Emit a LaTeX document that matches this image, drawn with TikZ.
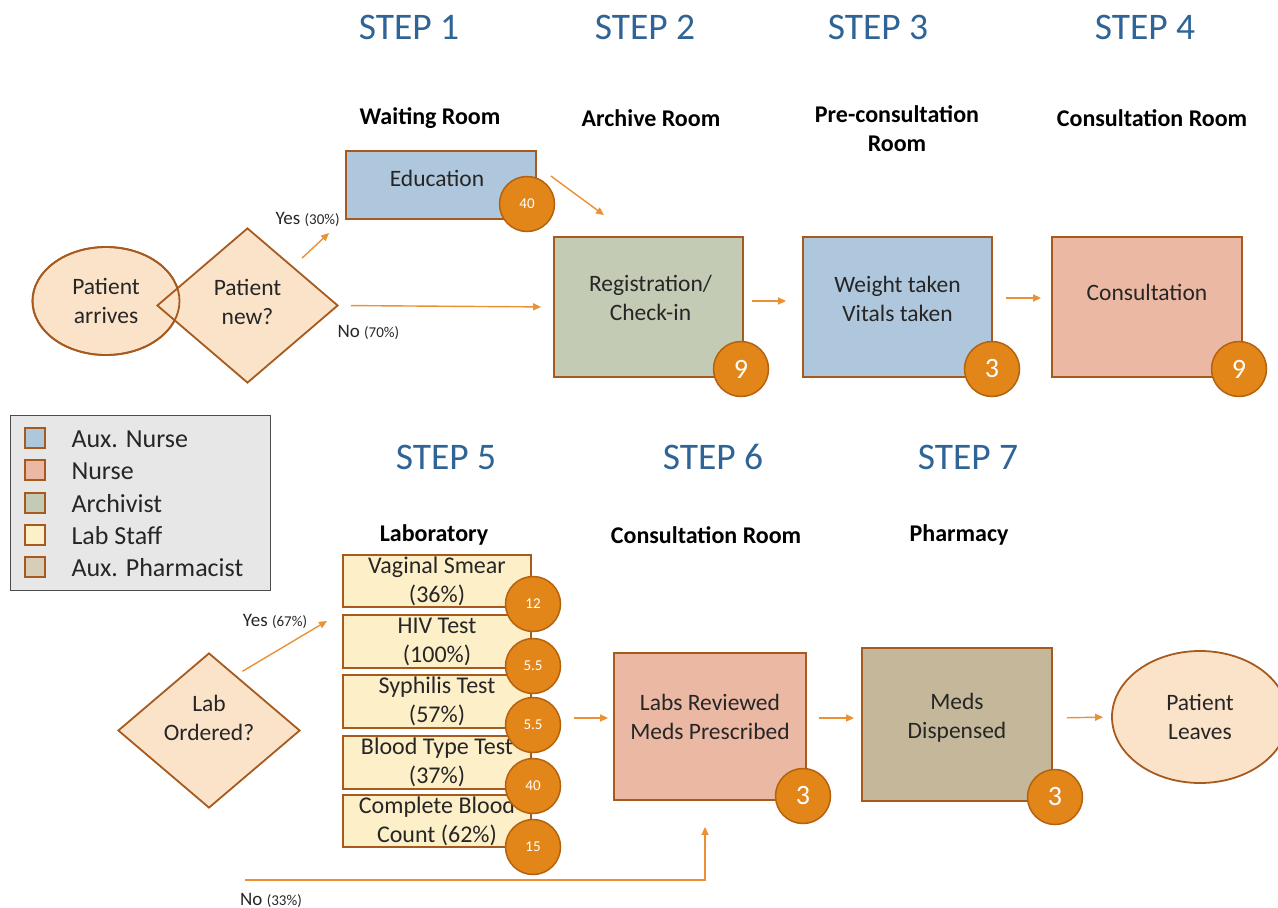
\documentclass[tikz,border=0pt]{standalone}
\usepackage{fontspec}
\setmainfont{Carlito}
\usetikzlibrary{shapes.geometric,arrows.meta}
\definecolor{brd}{HTML}{A65A1E}
\definecolor{auxn}{HTML}{AFC7DC}
\definecolor{nurse}{HTML}{EBB9A3}
\definecolor{arch}{HTML}{C3CBB5}
\definecolor{labc}{HTML}{FDEFC8}
\definecolor{pharm}{HTML}{C4B79A}
\definecolor{pharmL}{HTML}{D8CDB8}
\definecolor{peach}{HTML}{FBE3C9}
\definecolor{orng}{HTML}{E2861A}
\definecolor{orngd}{HTML}{B5620F}
\definecolor{arrc}{HTML}{EB9135}
\definecolor{stepc}{HTML}{2F6497}
\definecolor{legbg}{HTML}{E7E7E7}
\definecolor{txt}{HTML}{262626}
\begin{document}
\begin{tikzpicture}[x=1pt,y=-1pt,
  box/.style={draw=brd,line width=1.8pt,rectangle,inner sep=0pt},
  lbl/.style={font=\fontsize{23.5}{29}\selectfont,align=center,text=txt},
  lablbl/.style={font=\fontsize{24}{29}\selectfont,align=center,text=txt},
  badge/.style={circle,draw=orngd,line width=1.5pt,fill=orng,minimum size=55pt,inner sep=0pt,text=white},
  bigbadge/.style={badge,font=\fontsize{28}{30}\selectfont},
  smbadge/.style={badge,font=\fontsize{15}{17}\selectfont},
  arr/.style={draw=arrc,line width=1.4pt,-{Triangle[length=8pt,width=7pt]}},
  stephead/.style={text=stepc,font=\fontsize{37.5}{40}\selectfont},
  room/.style={font=\bfseries\fontsize{24}{29}\selectfont,align=center,text=black},
  term/.style={ellipse,draw=brd,line width=1.8pt,fill=peach,inner sep=0pt},
  decide/.style={diamond,draw=brd,line width=1.8pt,fill=peach,inner sep=0pt},
  choice/.style={font=\fontsize{19}{22}\selectfont,text=txt},
  legsq/.style={rectangle,draw=brd,line width=1.5pt,minimum size=20pt,inner sep=0pt},
  legtxt/.style={anchor=west,font=\fontsize{26}{30}\selectfont,text=txt}
]
\useasboundingbox (0,0) rectangle (1278,908);

% step headings
\node[stephead] (s1) at (409,27) {STEP 1};
\node[stephead] (s2) at (645,27) {STEP 2};
\node[stephead] (s3) at (878,27) {STEP 3};
\node[stephead] (s4) at (1145,27) {STEP 4};
\node[stephead] (s5) at (446,457) {STEP 5};
\node[stephead] (s6) at (713,457) {STEP 6};
\node[stephead] (s7) at (968,457) {STEP 7};

% rooms
\node[room] (r1) at (430,118) {Waiting Room};
\node[room] (r2) at (651,118) {Archive Room};
\node[room] (r3) at (897,129) {Pre-consultation\\Room};
\node[room] (r4) at (1152,118) {Consultation Room};
\node[room] (r5) at (434,535) {Laboratory};
\node[room] (r6) at (706,535) {Consultation Room};
\node[room] (r7) at (959,535) {Pharmacy};

% top row
\node[term,minimum width=147pt,minimum height=108pt] (pa) at (106,301) {};
\node[decide,minimum width=181pt,minimum height=155pt] (pn) at (247.5,305.5) {};
\draw[brd,line width=1.8pt] (106,301) ellipse [x radius=73.5, y radius=54];
\node[lbl] at (pa.center) {Patient\\arrives};
\node[lbl,yshift=4pt] at (pn.center) {Patient\\new?};

\node[box,fill=auxn,minimum width=190pt,minimum height=68pt,
  label={[lbl,yshift=7pt,xshift=-4pt]center:Education}] (edu) at (441,185) {};
\node[box,fill=arch,minimum width=189pt,minimum height=140pt,
  label={[lbl,yshift=9pt,xshift=2pt]center:Registration/\\Check-in}] (reg) at (648.5,307) {};
\node[box,fill=auxn,minimum width=189pt,minimum height=140pt,
  label={[lbl,yshift=8pt]center:Weight taken\\Vitals taken}] (wt) at (897.5,307) {};
\node[box,fill=nurse,minimum width=190pt,minimum height=140pt,
  label={[lbl,yshift=15pt]center:Consultation}] (cons) at (1147,307) {};

\node[smbadge] (b1) at (527,204) {40};
\node[bigbadge] (b2) at (741,369) {9};
\node[bigbadge] (b3) at (992,369) {3};
\node[bigbadge] (b4) at (1239,369) {9};

\coordinate (yesT) at (329,233);
\draw[arr,shorten <=12pt] (pn.north east) -- (yesT);
\node[choice,anchor=west] (y30) at (272,219) {Yes {\fontsize{15}{17}\selectfont (30\%)}};
\draw[arr,shorten <=12pt,shorten >=12pt] (pn.east) -- (reg.west);
\node[choice,anchor=west] (n70) at (334,332) {No {\fontsize{15}{17}\selectfont (70\%)}};
\draw[arr] ([xshift=14pt,yshift=9pt]edu.east) -- ([xshift=-44.5pt,yshift=21pt]reg.north);
\draw[arr,shorten <=8pt,shorten >=16pt] ([yshift=6pt]reg.east) -- ([yshift=6pt]wt.west);
\draw[arr,shorten <=13pt,shorten >=10pt] ([yshift=9pt]wt.east) -- ([yshift=9pt]cons.west);

% legend
\node[rectangle,draw=black!70,line width=1pt,fill=legbg,minimum width=260pt,minimum height=175pt] (leg) at (140,502.5) {};
\node[legsq,fill=auxn] (q1) at (35,438) {};
\node[legsq,fill=nurse] (q2) at (35,470) {};
\node[legsq,fill=arch] (q3) at (35,503) {};
\node[legsq,fill=labc] (q4) at (35,535) {};
\node[legsq,fill=pharmL] (q5) at (35,567) {};
\node[legtxt] (t1) at (68,439) {Aux. Nurse};
\node[legtxt] (t2) at (68,471) {Nurse};
\node[legtxt] (t3) at (68,504) {Archivist};
\node[legtxt] (t4) at (68,536) {Lab Staff};
\node[legtxt] (t5) at (68,568) {Aux. Pharmacist};

% bottom row
\node[decide,minimum width=182pt,minimum height=155pt] (lo) at (209,730.5) {};
\node[lbl,yshift=13pt] at (lo.center) {Lab\\Ordered?};

\node[box,fill=labc,minimum width=188pt,minimum height=52pt,
  label={[lablbl]center:Vaginal Smear\\(36\%)}] (lab1) at (437,581) {};
\node[box,fill=labc,minimum width=188pt,minimum height=53pt,
  label={[lablbl]center:HIV Test\\(100\%)}] (lab2) at (437,641.5) {};
\node[box,fill=labc,minimum width=188pt,minimum height=53pt,
  label={[lablbl]center:Syphilis Test\\(57\%)}] (lab3) at (437,701.5) {};
\node[box,fill=labc,minimum width=188pt,minimum height=53pt,
  label={[lablbl]center:Blood Type Test\\(37\%)}] (lab4) at (437,762.5) {};
\node[box,fill=labc,minimum width=188pt,minimum height=52pt,
  label={[lablbl]center:Complete Blood\\Count (62\%)}] (lab5) at (437,821) {};
\node[smbadge] (lb1) at (533,604) {12};
\node[smbadge] (lb2) at (533,666) {5.5};
\node[smbadge] (lb3) at (533,725) {5.5};
\node[smbadge] (lb4) at (533,786) {40};
\node[smbadge] (lb5) at (533,847) {15};

\node[box,fill=nurse,minimum width=192pt,minimum height=147pt,
  label={[lbl,yshift=10pt]center:Labs Reviewed\\Meds Prescribed}] (lr) at (710,726.5) {};
\node[box,fill=pharm,minimum width=190pt,minimum height=153pt,
  label={[lbl,yshift=7pt]center:Meds\\Dispensed}] (md) at (957,724.5) {};
\node[term,minimum width=176pt,minimum height=132pt] (pl) at (1200,717) {};
\node[lbl] at (pl.center) {Patient\\Leaves};
\node[bigbadge] (lrb) at (803,796) {3};
\node[bigbadge] (mdb) at (1055,797) {3};

\coordinate (labyes) at (327,621);
\draw[arr] ([shift={(-12.5pt,20pt)}]lo.north east) -- (labyes);
\node[choice] (y67) at (275,621) {Yes {\fontsize{15}{17}\selectfont (67\%)}};
\draw[arr,shorten <=42pt,shorten >=5pt] ([yshift=-16.5pt]lab3.east) -- ([yshift=8.5pt]lr.west);
\draw[arr,shorten <=12pt,shorten >=7pt] ([yshift=8.5pt]lr.east) -- ([yshift=6.5pt]md.west);
\draw[arr,shorten <=14pt,shorten >=8pt] ([yshift=6.5pt]md.east) -- (pl.west);
\coordinate (noS) at (245,880);
\draw[arr] (noS) -| ([xshift=-5pt,yshift=-26pt]lr.south);
\node[choice] (n33) at (271,900) {No {\fontsize{15}{17}\selectfont (33\%)}};
\end{tikzpicture}
\end{document}
